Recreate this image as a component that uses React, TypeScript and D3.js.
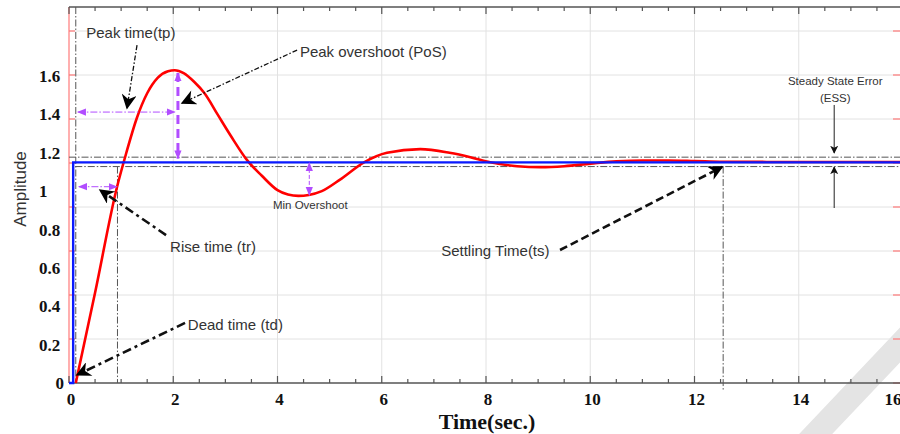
import React, { useRef, useEffect } from 'react';
import * as d3 from 'd3';

// response curve (red)
const times = [0.13, 0.5, 0.92, 1.1, 1.3, 1.5, 1.7, 1.9, 2.03, 2.2, 2.4, 2.6, 2.85, 3.1, 3.42, 3.7, 4.0, 4.2, 4.4, 4.6, 4.85, 5.2, 5.66, 6.1, 6.74, 7.3, 7.7, 8.08, 8.6, 9.05, 9.5, 10.0, 10.5, 11.0, 11.5, 12.0, 12.55, 14.0, 16.0];
const response = [0, 0.47, 1.02, 1.2, 1.38, 1.51, 1.59, 1.625, 1.63, 1.615, 1.57, 1.51, 1.4, 1.29, 1.16, 1.08, 1.005, 0.982, 0.975, 0.98, 1.0, 1.06, 1.15, 1.2, 1.219, 1.2, 1.177, 1.15, 1.13, 1.125, 1.13, 1.143, 1.155, 1.16, 1.16, 1.157, 1.153, 1.152, 1.152];

// step input (blue)
const stepTimes = [0, 0.08, 0.08, 16];
const stepValues = [0, 0, 1.15, 1.15];

const xTicks = [0, 2, 4, 6, 8, 10, 12, 14, 16];
const yTicks = [0, 0.2, 0.4, 0.6, 0.8, 1, 1.2, 1.4, 1.6];
const gridLevels = [0, 0.2, 0.4, 0.6, 0.8, 1, 1.2, 1.4, 1.6];

const bandUpper = 1.177;
const bandLower = 1.128;
const deadTime = 0.13;
const riseTime = 0.93;
const settlingTime = 12.55;

function App() {
  const svgRef = useRef(null);

  useEffect(() => {
    const svg = d3.select(svgRef.current);
    svgRef.current.querySelectorAll('*').forEach(n => n.remove());

    const x = d3.scaleLinear().domain([0, 16]).range([69, 903]);
    const y = d3.scaleLinear().domain([0, 1.6]).range([383, 76]);
    // the plot's own grid sits on a slightly different spacing than the labels
    const yGrid = d3.scaleLinear().domain([0, 1.6]).range([383, 31]);
    const top = 7;
    const sans = "'Liberation Sans', Arial, sans-serif";
    const serif = "'Liberation Serif', 'Times New Roman', serif";
    const purple = '#b14dff';
    const dashDot = '7,2,1.5,2';

    const defs = svg.append('defs');
    const marker = (id, color, w, h, path) =>
      defs.append('marker')
        .attr('id', id).attr('viewBox', '0 0 10 10')
        .attr('refX', 9).attr('refY', 5)
        .attr('markerWidth', w).attr('markerHeight', h)
        .attr('markerUnits', 'userSpaceOnUse')
        .attr('orient', 'auto-start-reverse')
        .append('path').attr('d', path).attr('fill', color);
    marker('blk', '#000', 17, 15, 'M0,0 L10,5 L0,10 L3,5 Z');
    marker('pur', purple, 9, 9, 'M0,1 L10,5 L0,9 Z');
    marker('thin', '#111', 8, 10, 'M0,0 L10,5 L0,10 L2.5,5 Z');

    // watermark corner
    svg.append('path')
      .attr('d', 'M900,345 L990,440 L900,535 L810,440 Z')
      .attr('fill', 'none').attr('stroke', '#e4e4e4').attr('stroke-width', 24);

    // grid
    svg.append('g').selectAll('line').data(xTicks.filter(d => d > 0 && d < 16)).join('line')
      .attr('x1', d => x(d)).attr('x2', d => x(d)).attr('y1', top).attr('y2', 383)
      .attr('stroke', '#e2e2e2');
    svg.append('g').selectAll('line').data(gridLevels.filter(d => d > 0)).join('line')
      .attr('x1', x(0)).attr('x2', x(16)).attr('y1', d => yGrid(d)).attr('y2', d => yGrid(d))
      .attr('stroke', '#e2e2e2');

    // frame: red side axes, grey top/bottom
    svg.append('line').attr('x1', x(0)).attr('x2', x(0)).attr('y1', top).attr('y2', 383)
      .attr('stroke', '#ff7a7a').attr('stroke-width', 1.2);
    svg.append('g').selectAll('line').data(gridLevels.filter(d => d > 0)).join('line')
      .attr('x1', x(0)).attr('x2', x(0) + 6).attr('y1', d => yGrid(d)).attr('y2', d => yGrid(d))
      .attr('stroke', '#ff7a7a').attr('stroke-width', 1.2);
    svg.append('g').selectAll('line').data(gridLevels).join('line')
      .attr('x1', x(16) - 10).attr('x2', x(16)).attr('y1', d => yGrid(d)).attr('y2', d => yGrid(d))
      .attr('stroke', '#ff7a7a').attr('stroke-width', 1.2);

    const minor = d3.range(0, 16.01, 0.5);
    [[383, -1], [top, 1]].forEach(([yy, dir]) => {
      svg.append('line').attr('x1', x(0)).attr('x2', x(16)).attr('y1', yy).attr('y2', yy)
        .attr('stroke', '#555').attr('stroke-width', 1.3);
      svg.append('g').selectAll('line').data(minor).join('line')
        .attr('x1', d => x(d)).attr('x2', d => x(d)).attr('y1', yy)
        .attr('y2', d => yy + dir * (d % 2 === 0 ? 7 : 4))
        .attr('stroke', '#555').attr('stroke-width', 1.2);
    });

    // reference dash-dot lines
    const guides = svg.append('g').attr('stroke', '#555').attr('stroke-width', 1).attr('stroke-dasharray', dashDot).attr('fill', 'none');
    guides.append('line').attr('x1', x(0)).attr('x2', x(16)).attr('y1', y(bandUpper)).attr('y2', y(bandUpper));
    guides.append('line').attr('x1', x(0.12)).attr('x2', x(16)).attr('y1', y(bandLower)).attr('y2', y(bandLower));
    guides.append('line').attr('x1', x(deadTime)).attr('x2', x(deadTime)).attr('y1', top).attr('y2', 383);
    guides.append('line').attr('x1', x(riseTime)).attr('x2', x(riseTime)).attr('y1', y(bandLower)).attr('y2', 383);
    guides.append('line').attr('x1', x(settlingTime)).attr('x2', x(settlingTime)).attr('y1', y(bandLower)).attr('y2', 390);

    // curves
    const resp = times.map((t, i) => [t, response[i]]);
    svg.append('path').datum(resp)
      .attr('d', d3.line().x(d => x(d[0])).y(d => y(d[1])).curve(d3.curveMonotoneX))
      .attr('fill', 'none').attr('stroke', '#ff0000').attr('stroke-width', 2.6);
    const step = stepTimes.map((t, i) => [t, stepValues[i]]);
    svg.append('path').datum(step)
      .attr('d', d3.line().x(d => x(d[0])).y(d => y(d[1])))
      .attr('fill', 'none').attr('stroke', '#0a1aff').attr('stroke-width', 2.4);

    // purple measurement arrows
    const pa = (x1, y1, x2, y2, w, dash) =>
      svg.append('line').attr('x1', x(x1)).attr('y1', y(y1)).attr('x2', x(x2)).attr('y2', y(y2))
        .attr('stroke', purple).attr('stroke-width', w).attr('stroke-dasharray', dash)
        .attr('marker-start', 'url(#pur)').attr('marker-end', 'url(#pur)');
    pa(0.17, 1.412, 2.03, 1.412, 1, dashDot);
    pa(2.09, 1.615, 2.09, 1.17, 3, '9,5');
    pa(0.19, 1.023, 0.92, 1.023, 1, dashDot);
    pa(4.61, 1.147, 4.61, 0.979, 1, '4,2');

    // black leader arrows
    const la = (x1, y1, x2, y2, w, dash) =>
      svg.append('line').attr('x1', x(x1)).attr('y1', y(y1)).attr('x2', x(x2)).attr('y2', y(y2))
        .attr('stroke', '#111').attr('stroke-width', w).attr('stroke-dasharray', dash)
        .attr('marker-end', 'url(#blk)');
    la(1.305, 1.761, 1.113, 1.433, 1.3, '5,2,1.5,2');
    la(4.376, 1.735, 2.169, 1.459, 1.3, '5,2,1.5,2');
    la(1.862, 0.771, 0.595, 1.006, 2.6, '9,4,3,4');
    la(2.226, 0.313, 0.154, 0.042, 2.6, '9,4,3,4');
    la(9.42, 0.693, 12.53, 1.126, 2.6, '8,4');

    // ESS arrows
    [[1.449, 1.199], [0.912, 1.126]].forEach(([a, b]) =>
      svg.append('line').attr('x1', x(14.68)).attr('x2', x(14.68)).attr('y1', y(a)).attr('y2', y(b))
        .attr('stroke', '#222').attr('stroke-width', 1).attr('marker-end', 'url(#thin)'));

    // annotation text
    const txt = (t, v, s, size, anchor) =>
      svg.append('text').attr('x', x(t)).attr('y', y(v)).text(s)
        .attr('font-family', sans).attr('font-size', size).attr('fill', '#333')
        .attr('text-anchor', anchor || 'start');
    txt(0.33, 1.8, 'Peak time(tp)', 15);
    txt(4.43, 1.7, 'Peak overshoot (PoS)', 15);
    txt(14.7, 1.553, 'Steady State Error', 11.5, 'middle');
    txt(14.7, 1.464, '(ESS)', 11.5, 'middle');
    txt(4.63, 0.907, 'Min Overshoot', 11.5, 'middle');
    txt(1.94, 0.683, 'Rise time (tr)', 15);
    txt(2.28, 0.276, 'Dead time (td)', 15);
    txt(7.14, 0.662, 'Settling Time(ts)', 15);

    // tick labels
    svg.append('g').selectAll('text').data(yTicks).join('text')
      .attr('x', d => (d === 0 ? 64 : 39)).attr('y', d => y(d) + 6)
      .attr('text-anchor', d => (d === 0 ? 'end' : 'start'))
      .attr('font-family', serif).attr('font-weight', 'bold').attr('font-size', 17).attr('fill', '#111')
      .text(d => d3.format('~g')(d));
    svg.append('g').selectAll('text').data(xTicks).join('text')
      .attr('x', d => Math.min(x(d) + 2, 893)).attr('y', 405).attr('text-anchor', 'middle')
      .attr('font-family', serif).attr('font-weight', 'bold').attr('font-size', 17).attr('fill', '#111')
      .text(d => d);

    svg.append('text').attr('x', 487).attr('y', 429).attr('text-anchor', 'middle')
      .attr('font-family', serif).attr('font-weight', 'bold').attr('font-size', 22).attr('fill', '#111')
      .text('Time(sec.)');
    svg.append('text').attr('transform', 'translate(26,189) rotate(-90)').attr('text-anchor', 'middle')
      .attr('font-family', sans).attr('font-size', 17).attr('fill', '#333')
      .text('Amplitude');
  }, []);

  return (
    <svg width="900" height="434" ref={svgRef} style={{ position: 'absolute', left: 0, top: 0, background: '#fff' }}></svg>
  );
}

export default App;
